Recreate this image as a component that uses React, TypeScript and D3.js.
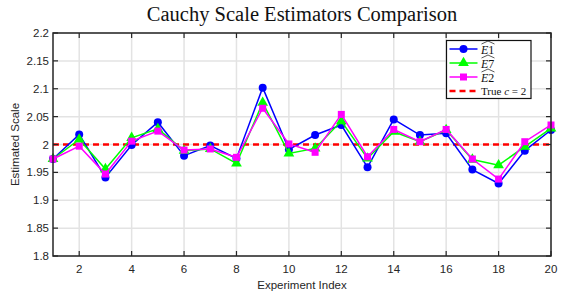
import React, { useRef, useEffect } from 'react';
import * as d3 from 'd3';

const experiments = d3.range(1, 21);
const e1Values = [1.974, 2.018, 1.941, 1.999, 2.040, 1.980, 1.998, 1.975, 2.102, 1.991,
  2.017, 2.035, 1.959, 2.045, 2.017, 2.020, 1.955, 1.930, 1.989, 2.026];
const e7Values = [1.974, 2.009, 1.956, 2.012, 2.028, 1.989, 1.992, 1.966, 2.075, 1.984,
  1.993, 2.042, 1.975, 2.023, 2.005, 2.026, 1.973, 1.963, 1.996, 2.029];
const e2Values = [1.974, 1.997, 1.947, 2.006, 2.024, 1.990, 1.992, 1.977, 2.065, 2.001,
  1.986, 2.054, 1.978, 2.027, 2.005, 2.027, 1.974, 1.938, 2.005, 2.035];
const trueC = 2;
const xTicks = [2, 4, 6, 8, 10, 12, 14, 16, 18, 20];
const yTicks = [1.8, 1.85, 1.9, 1.95, 2, 2.05, 2.1, 2.15, 2.2];

type Series = { key: string; values: number[]; color: string; marker: 'circle' | 'triangle' | 'square' };

const series: Series[] = [
  { key: 'E1', values: e1Values, color: '#0000ff', marker: 'circle' },
  { key: 'E7', values: e7Values, color: '#00ff00', marker: 'triangle' },
  { key: 'E2', values: e2Values, color: '#ff00ff', marker: 'square' },
];

const width = 570;
const height = 293;

function drawMarker(g: d3.Selection<SVGGElement, unknown, null, undefined>, type: string, x: number, y: number, color: string) {
  if (type === 'circle') {
    g.append('circle').attr('cx', x).attr('cy', y).attr('r', 4).attr('fill', color);
  } else if (type === 'triangle') {
    g.append('path')
      .attr('d', d3.symbol().type(d3.symbolTriangle).size(50)())
      .attr('transform', `translate(${x},${y})`)
      .attr('fill', color);
  } else {
    g.append('rect').attr('x', x - 3.5).attr('y', y - 3.5).attr('width', 7).attr('height', 7).attr('fill', color);
  }
}

const App: React.FC = () => {
  const svgRef = useRef<SVGSVGElement | null>(null);

  useEffect(() => {
    if (!svgRef.current) return;
    const margin = { top: 33, right: 19, bottom: 37, left: 53 };
    const chartWidth = width - margin.left - margin.right;
    const chartHeight = height - margin.top - margin.bottom;

    d3.select(svgRef.current).selectAll('*').remove();
    const svg = d3.select(svgRef.current).attr('width', width).attr('height', height);

    svg.append('rect').attr('width', width).attr('height', height).attr('fill', 'white');

    const g = svg.append('g').attr('transform', `translate(${margin.left},${margin.top})`);

    const xScale = d3.scaleLinear().domain([1, 20]).range([0, chartWidth]);
    const yScale = d3.scaleLinear().domain([1.8, 2.2]).range([chartHeight, 0]);

    // Grid
    g.append('g').selectAll('line').data(xTicks).enter().append('line')
      .attr('x1', d => xScale(d)).attr('x2', d => xScale(d))
      .attr('y1', 0).attr('y2', chartHeight)
      .attr('stroke', '#e3e3e3').attr('stroke-width', 1.5);
    g.append('g').selectAll('line').data(yTicks).enter().append('line')
      .attr('x1', 0).attr('x2', chartWidth)
      .attr('y1', d => yScale(d)).attr('y2', d => yScale(d))
      .attr('stroke', '#e3e3e3').attr('stroke-width', 1.5);

    // Reference line
    g.append('line')
      .attr('x1', 0).attr('x2', chartWidth)
      .attr('y1', yScale(trueC)).attr('y2', yScale(trueC))
      .attr('stroke', '#ff0000').attr('stroke-width', 2.5)
      .attr('stroke-dasharray', '6,4');

    // Series
    const line = d3.line<number>()
      .x((_, i) => xScale(experiments[i]))
      .y(d => yScale(d));

    series.forEach(s => {
      g.append('path').datum(s.values)
        .attr('fill', 'none').attr('stroke', s.color).attr('stroke-width', 1.5)
        .attr('d', line);
      const mg = g.append('g');
      s.values.forEach((v, i) => drawMarker(mg, s.marker, xScale(experiments[i]), yScale(v), s.color));
    });

    // Axes box with inward ticks
    const axisColor = '#262626';
    const axisG = g.append('g');
    axisG.append('rect').attr('width', chartWidth).attr('height', chartHeight)
      .attr('fill', 'none').attr('stroke', axisColor).attr('stroke-width', 1.5);
    const tickLen = 5;
    xTicks.forEach(t => {
      const x = xScale(t);
      axisG.append('line').attr('x1', x).attr('x2', x).attr('y1', chartHeight).attr('y2', chartHeight - tickLen)
        .attr('stroke', axisColor).attr('stroke-width', 1.2);
      axisG.append('line').attr('x1', x).attr('x2', x).attr('y1', 0).attr('y2', tickLen)
        .attr('stroke', axisColor).attr('stroke-width', 1.2);
      axisG.append('text').attr('x', x).attr('y', chartHeight + 17)
        .attr('text-anchor', 'middle').attr('font-family', 'Liberation Sans, Arial, sans-serif')
        .attr('font-size', 11.5).attr('fill', axisColor).text(String(t));
    });
    yTicks.forEach(t => {
      const y = yScale(t);
      axisG.append('line').attr('x1', 0).attr('x2', tickLen).attr('y1', y).attr('y2', y)
        .attr('stroke', axisColor).attr('stroke-width', 1.2);
      axisG.append('line').attr('x1', chartWidth).attr('x2', chartWidth - tickLen).attr('y1', y).attr('y2', y)
        .attr('stroke', axisColor).attr('stroke-width', 1.2);
      axisG.append('text').attr('x', -4).attr('y', y + 4)
        .attr('text-anchor', 'end').attr('font-family', 'Liberation Sans, Arial, sans-serif')
        .attr('font-size', 11.5).attr('fill', axisColor).text(String(t));
    });

    // Labels
    svg.append('text').attr('x', margin.left + chartWidth / 2).attr('y', 21)
      .attr('text-anchor', 'middle').attr('font-family', 'Liberation Serif, serif')
      .attr('font-size', 20.5).attr('fill', '#111').text('Cauchy Scale Estimators Comparison');
    svg.append('text').attr('x', margin.left + chartWidth / 2).attr('y', 289)
      .attr('text-anchor', 'middle').attr('font-family', 'Liberation Sans, Arial, sans-serif')
      .attr('font-size', 11.5).attr('fill', axisColor).text('Experiment Index');
    svg.append('text').attr('transform', `translate(19,${margin.top + chartHeight / 2}) rotate(-90)`)
      .attr('text-anchor', 'middle').attr('font-family', 'Liberation Sans, Arial, sans-serif')
      .attr('font-size', 11.5).attr('fill', axisColor).text('Estimated Scale');

    // Legend
    const legend = svg.append('g').attr('transform', 'translate(446.5,40.5)');
    legend.append('rect').attr('width', 84.5).attr('height', 58)
      .attr('fill', 'white').attr('stroke', '#111').attr('stroke-width', 1.2);
    series.forEach((s, i) => {
      const y = 8.5 + i * 14;
      legend.append('line').attr('x1', 3).attr('x2', 31).attr('y1', y).attr('y2', y)
        .attr('stroke', s.color).attr('stroke-width', 1.5);
      drawMarker(legend, s.marker, 17, y, s.color);
      const t = legend.append('text').attr('x', 34.5).attr('y', y + 4.5)
        .attr('font-family', 'Liberation Serif, serif').attr('font-size', 12).attr('fill', '#111');
      t.append('tspan').attr('font-style', 'italic').text(s.key[0]);
      t.append('tspan').text(s.key.slice(1));
      // wide hat
      legend.append('path')
        .attr('d', `M35,${y - 5} L41.5,${y - 8} L48,${y - 5}`)
        .attr('fill', 'none').attr('stroke', '#111').attr('stroke-width', 0.7);
    });
    const yr = 8.5 + 3 * 14;
    legend.append('line').attr('x1', 3).attr('x2', 31).attr('y1', yr).attr('y2', yr)
      .attr('stroke', '#ff0000').attr('stroke-width', 2.5).attr('stroke-dasharray', '6,4');
    const tr = legend.append('text').attr('x', 34.5).attr('y', yr + 4)
      .attr('font-family', 'Liberation Serif, serif').attr('font-size', 11).attr('fill', '#111');
    tr.append('tspan').text('True ');
    tr.append('tspan').attr('font-style', 'italic').text('c');
    tr.append('tspan').text(` = ${trueC}`);
  }, []);

  return (
    <div style={{ position: 'absolute', left: 0, top: 0 }}>
      <svg ref={svgRef} style={{ display: 'block' }} />
    </div>
  );
};

export default App;
